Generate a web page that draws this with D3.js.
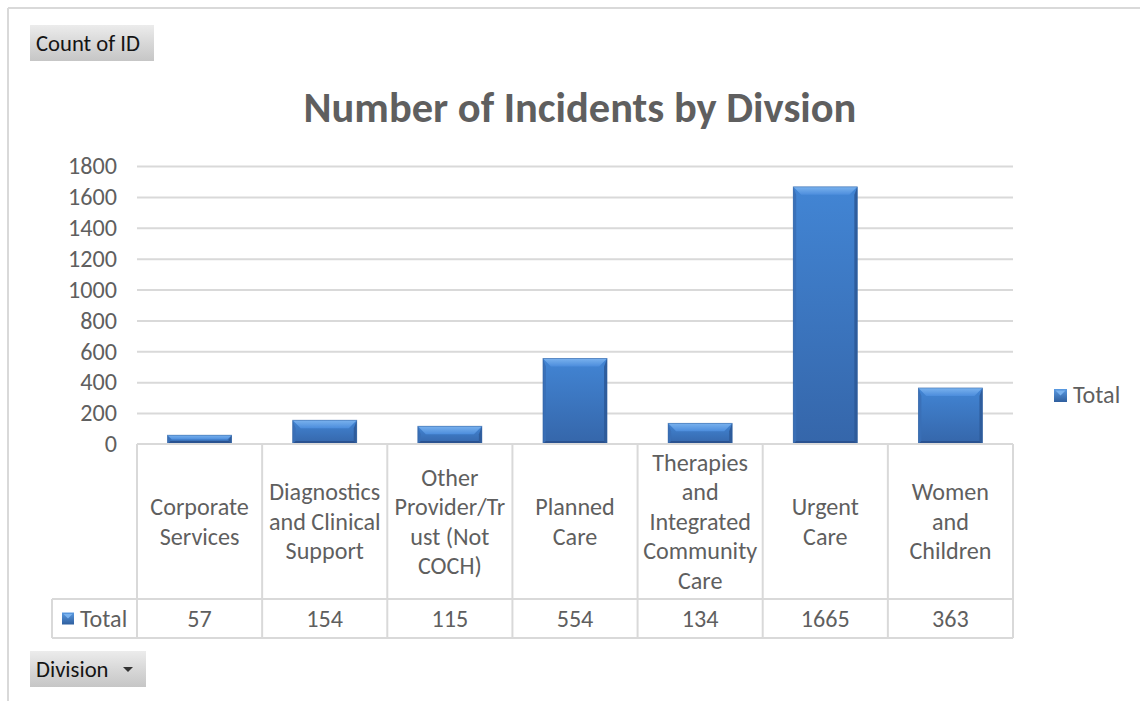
<!DOCTYPE html>
<html>
<head>
<meta charset="utf-8">
<script src="https://cdn.jsdelivr.net/npm/d3@7"></script>
<style>
  html, body { margin: 0; padding: 0; background: #fff; }
  svg { display: block; }
</style>
</head>
<body>
<svg id="chart" width="1140" height="701"></svg>
<script>
// ---- data ----
const categories = [
  "Corporate Services",
  "Diagnostics and Clinical Support",
  "Other Provider/Trust (Not COCH)",
  "Planned Care",
  "Therapies and Integrated Community Care",
  "Urgent Care",
  "Women and Children"
];
const categoryLines = [
  ["Corporate", "Services"],
  ["Diagnostics", "and Clinical", "Support"],
  ["Other", "Provider/Tr", "ust (Not", "COCH)"],
  ["Planned", "Care"],
  ["Therapies", "and", "Integrated", "Community", "Care"],
  ["Urgent", "Care"],
  ["Women", "and", "Children"]
];
const totals = [57, 154, 115, 554, 134, 1665, 363];
const yTicks = [0, 200, 400, 600, 800, 1000, 1200, 1400, 1600, 1800];
const seriesName = "Total";
const chartTitle = "Number of Incidents by Divsion";

// ---- setup ----
const svg = d3.select("#chart");
const FONT = "Carlito, Lato, 'Liberation Sans', sans-serif";
const TEXT = "#5f5f5f";
const LINE = "#d9d9d9";

// pick a font size so a sample string renders at a given width
function fitSize(sample, targetWidth, weight) {
  const t = svg.append("text")
    .attr("font-family", FONT).attr("font-size", 100)
    .attr("font-weight", weight || "normal").text(sample);
  const w = t.node().getComputedTextLength();
  t.remove();
  return 100 * targetWidth / w;
}
const fsLabel = fitSize("Diagnostics", 111);
const fsTitle = fitSize(chartTitle, 553, "bold");
const fsButton = fitSize("Count of ID", 104);

const plotL = 137, plotR = 1013, plotT = 166, plotB = 444;
const x = d3.scaleBand().domain(categories).range([plotL, plotR]);
const y = d3.scaleLinear().domain([0, 1800]).range([plotB, plotT]);
const barW = x.bandwidth() * 0.512;

const defs = svg.append("defs");
function grad(id, x2, y2, stops) {
  const g = defs.append("linearGradient").attr("id", id)
    .attr("x1", 0).attr("y1", 0).attr("x2", x2).attr("y2", y2);
  stops.forEach(s => g.append("stop").attr("offset", s[0]).attr("stop-color", s[1]));
}
grad("btnGrad", 0, 1, [[0, "#ececec"], [0.5, "#d8d8d8"], [1, "#c6c6c6"]]);
grad("bodyGrad", 0, 1, [[0, "#4285d4"], [1, "#3566aa"]]);
grad("topGrad", 0, 1, [[0, "#7ab2ee"], [1, "#4c8ddc"]]);
grad("legGrad", 0, 1, [[0, "#5a9ae2"], [1, "#2f5f9e"]]);

// ---- outer frame ----
svg.append("line").attr("x1", 8).attr("y1", 8).attr("x2", 1140).attr("y2", 8)
  .attr("stroke", LINE).attr("stroke-width", 2);
svg.append("line").attr("x1", 8).attr("y1", 8).attr("x2", 8).attr("y2", 701)
  .attr("stroke", LINE).attr("stroke-width", 2);

// ---- field buttons ----
function button(bx, by, bw, bh, label, arrow) {
  const g = svg.append("g");
  g.append("rect").attr("x", bx).attr("y", by).attr("width", bw).attr("height", bh)
    .attr("fill", "url(#btnGrad)");
  g.append("text").attr("x", bx + 6).attr("y", by + bh / 2).attr("dy", "0.35em")
    .attr("font-family", FONT).attr("font-size", fsButton).attr("fill", "#141414")
    .text(label);
  if (arrow) {
    const ax = bx + bw - 18, ay = by + bh / 2;
    g.append("path").attr("d", `M${ax - 5},${ay - 2}L${ax + 5},${ay - 2}L${ax},${ay + 3}Z`)
      .attr("fill", "#333");
  }
}
button(30, 25, 124, 36, "Count of ID", false);
button(30, 651, 116, 36, "Division", true);

// ---- title ----
svg.append("text").attr("x", 580).attr("y", 122)
  .attr("text-anchor", "middle")
  .attr("font-family", FONT).attr("font-weight", "bold").attr("font-size", fsTitle)
  .attr("fill", TEXT).text(chartTitle);

// ---- y axis with gridlines ----
const yAxis = svg.append("g").attr("transform", `translate(${plotL},0)`)
  .call(d3.axisLeft(y).tickValues(yTicks).tickFormat(d3.format("d"))
    .tickSize(-(plotR - plotL)).tickPadding(20));
yAxis.select(".domain").remove();
yAxis.selectAll(".tick line").attr("stroke", LINE).attr("stroke-width", 2)
  .filter(d => d === 0).remove();
yAxis.selectAll(".tick text").attr("font-family", FONT).attr("font-size", fsLabel)
  .attr("fill", TEXT);

// ---- bars (bevelled) ----
const bars = svg.append("g").selectAll("g").data(categories).join("g");
bars.each(function (c, i) {
  const g = d3.select(this);
  const x0 = x(c) + (x.bandwidth() - barW) / 2, x1 = x0 + barW;
  const y0 = y(totals[i]), y1 = y(0);
  const h = y1 - y0;
  const bt = Math.min(8, h / 2), bs = Math.min(3, barW / 4), bb = Math.min(3, h / 3);
  g.append("rect").attr("x", x0).attr("y", y0).attr("width", barW).attr("height", h)
    .attr("fill", "url(#bodyGrad)");
  // side bevels
  g.append("path").attr("d", `M${x0},${y0}L${x0 + bs},${y0 + bt}L${x0 + bs},${y1 - bb}L${x0},${y1}Z`)
    .attr("fill", "#3a6fb6").attr("opacity", 0.9);
  g.append("path").attr("d", `M${x1},${y0}L${x1 - bs},${y0 + bt}L${x1 - bs},${y1 - bb}L${x1},${y1}Z`)
    .attr("fill", "#2e5a98").attr("opacity", 0.9);
  // bottom bevel
  g.append("path").attr("d", `M${x0},${y1}L${x0 + bs},${y1 - bb}L${x1 - bs},${y1 - bb}L${x1},${y1}Z`)
    .attr("fill", "#2a5290");
  // top bevel
  g.append("path").attr("d", `M${x0},${y0}L${x1},${y0}L${x1 - bt},${y0 + bt}L${x0 + bt},${y0 + bt}Z`)
    .attr("fill", "url(#topGrad)");
  g.append("rect").attr("x", x0).attr("y", y0).attr("width", barW).attr("height", h)
    .attr("fill", "none").attr("stroke", "#2f5f9e").attr("stroke-width", 0.8).attr("opacity", 0.6);
});

// ---- data table ----
const rowSplit = 599, rowEnd = 638, headLeft = 52;
const table = svg.append("g").attr("stroke", LINE).attr("stroke-width", 2);
table.append("line").attr("x1", plotL).attr("x2", plotR).attr("y1", plotB).attr("y2", plotB);
table.append("line").attr("x1", headLeft).attr("x2", plotR).attr("y1", rowSplit).attr("y2", rowSplit);
table.append("line").attr("x1", headLeft).attr("x2", plotR).attr("y1", rowEnd).attr("y2", rowEnd);
table.append("line").attr("x1", headLeft).attr("x2", headLeft).attr("y1", rowSplit).attr("y2", rowEnd);
const bounds = categories.map(c => x(c)).concat([plotR]);
table.selectAll("line.v").data(bounds).join("line").attr("class", "v")
  .attr("x1", d => d).attr("x2", d => d).attr("y1", plotB).attr("y2", rowEnd);

// category labels (wrapped)
const lh = fsLabel * 1.22;
const labelMid = (plotB + rowSplit) / 2;
const labels = svg.append("g").selectAll("text").data(categories).join("text")
  .attr("font-family", FONT).attr("font-size", fsLabel).attr("fill", TEXT)
  .attr("text-anchor", "middle");
labels.each(function (c, i) {
  const lines = categoryLines[i];
  const cx = x(c) + x.bandwidth() / 2;
  const startY = labelMid - (lines.length - 1) * lh / 2;
  d3.select(this).selectAll("tspan").data(lines).join("tspan")
    .attr("x", cx).attr("y", (d, k) => startY + k * lh).attr("dy", "0.35em").text(d => d);
});

// value row
const valMid = (rowSplit + rowEnd) / 2;
svg.append("g").selectAll("text").data(categories).join("text")
  .attr("x", c => x(c) + x.bandwidth() / 2).attr("y", valMid).attr("dy", "0.35em")
  .attr("text-anchor", "middle").attr("font-family", FONT).attr("font-size", fsLabel)
  .attr("fill", TEXT).text((c, i) => totals[i]);

// row header: legend key + series name
function legendKey(g, kx, ky, s) {
  g.append("rect").attr("x", kx).attr("y", ky).attr("width", s).attr("height", s)
    .attr("fill", "url(#legGrad)");
  g.append("path").attr("d", `M${kx + 1.5},${ky + 1.5}L${kx + s - 1.5},${ky + 1.5}L${kx + s / 2},${ky + s / 2}Z`)
    .attr("fill", "#7ab2ee");
}
const head = svg.append("g");
legendKey(head, 62, valMid - 6, 12);
head.append("text").attr("x", 80).attr("y", valMid).attr("dy", "0.35em")
  .attr("font-family", FONT).attr("font-size", fsLabel).attr("fill", TEXT).text(seriesName);

// ---- legend ----
const legend = svg.append("g");
legendKey(legend, 1054, 389, 13);
legend.append("text").attr("x", 1073).attr("y", 395).attr("dy", "0.35em")
  .attr("font-family", FONT).attr("font-size", fsLabel).attr("fill", TEXT).text(seriesName);
</script>
</body>
</html>
